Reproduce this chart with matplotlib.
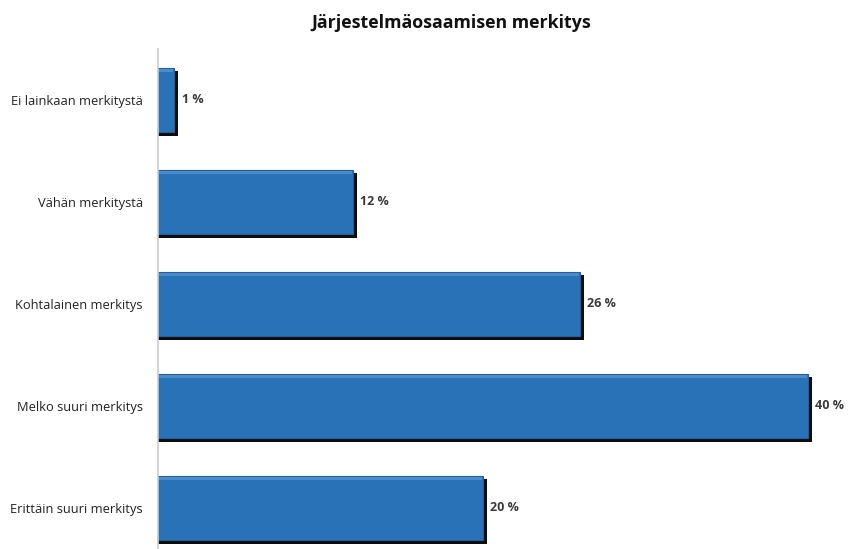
import matplotlib.pyplot as plt

categories = ["Ei lainkaan merkitystä", "Vähän merkitystä", "Kohtalainen merkitys",
              "Melko suuri merkitys", "Erittäin suuri merkitys"]
values = [1, 12, 26, 40, 20]
labels = ["1 %", "12 %", "26 %", "40 %", "20 %"]

plt.rcParams['font.family'] = ['Open Sans', 'DejaVu Sans']

fig = plt.figure(figsize=(8.49, 5.49), dpi=100)
ax = fig.add_axes([158 / 849, 0, 682 / 849, 500 / 549])

pos = list(range(len(categories)))
# shadow behind bars
ax.barh([p + 0.035 for p in pos], [v + 0.25 for v in values], height=0.63,
        color="#0d0d0d", zorder=1)
ax.barh(pos, values, height=0.63, color="#2A72B8", edgecolor="#23609b",
        linewidth=0.8, zorder=2)
# faint highlight along the top edge
ax.barh([p - 0.29 for p in pos], [v - 0.1 for v in values], height=0.03,
        left=0.05, color="#4a8cc9", zorder=3)

for p, v, lab in zip(pos, values, labels):
    ax.text(v + 0.45, p, lab, va="center", ha="left", fontsize=9,
            fontweight="bold", color="#3a3a3a")

ax.set_xlim(0, 42)
ax.set_ylim(4.402, -0.5)
ax.set_yticks(pos)
ax.set_yticklabels(categories, fontsize=9.3, color="#222222")
ax.tick_params(axis="y", length=0, pad=11)
ax.set_xticks([])
for s in ["top", "right", "bottom"]:
    ax.spines[s].set_visible(False)
ax.spines["left"].set_color("#cccccc")
ax.spines["left"].set_linewidth(1.2)

fig.text(0.532, 0.958, "Järjestelmäosaamisen merkitys", ha="center", va="center",
         fontsize=12.8, fontweight="bold", color="#111111")

plt.savefig("out.png", dpi=100)
